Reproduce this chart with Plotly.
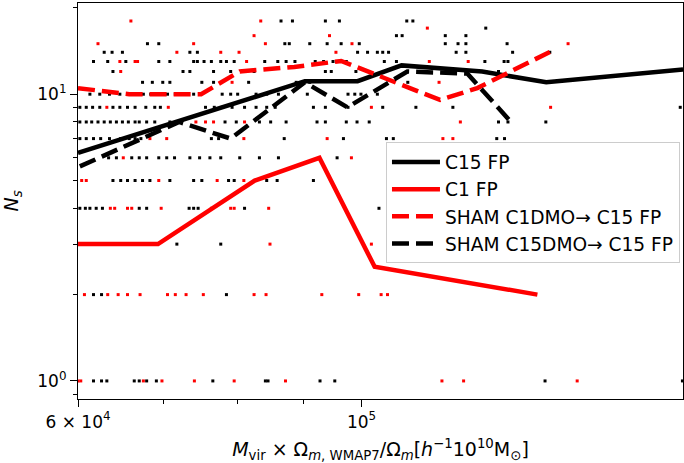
import plotly.graph_objects as go

# ---------------- data (masses in units of 1e4 h^-1 1e10 Msun) ----------------
# individual satellites counts: N_s -> list of host masses
c15_halos = {
    18: [8.65, 8.83, 9.37, 9.61, 10.85, 10.97],
    17: [12.51],
    16: [10.65, 10.76, 11.63, 12.07],
    15: [6.80, 6.94, 8.71, 8.78, 9.11, 9.40, 9.64, 9.96, 11.63, 11.90, 12.07, 13.00],
    14: [6.29, 6.38, 6.50, 7.34, 7.44, 9.93, 10.11, 10.29, 10.39, 10.50, 11.86, 12.07, 13.13, 14.04],
    13: [6.17, 6.33, 6.54, 6.94, 7.08, 7.39, 7.44, 7.53, 7.63, 7.76, 7.84, 7.95, 8.40, 8.60, 8.73,
         8.87, 9.20, 9.34, 9.50, 9.73, 10.42, 10.65, 12.49, 12.93, 13.02],
    12: [6.39, 7.25, 7.34, 7.66, 7.90, 8.24, 9.37, 9.47, 9.90, 12.51, 12.80],
    11: [6.74, 6.86, 6.99, 7.08, 7.50, 7.66, 8.16, 8.89, 9.11, 10.87],
    10: [6.13, 6.24, 6.35, 6.47, 6.58, 6.75, 6.84, 6.95, 7.05, 7.15, 7.26, 7.39, 7.78, 7.90, 8.00,
         8.27, 8.43, 8.61, 9.07, 9.76, 9.88, 9.99, 10.29],
    9: [6.02, 6.09, 6.16, 6.24, 6.39, 6.47, 6.56, 6.65, 6.78, 6.89, 6.96, 7.55, 7.67, 7.78, 7.92,
        8.10, 8.27, 8.43, 8.56, 9.17, 9.37, 9.76, 10.39, 11.03, 11.79, 17.76],
    8: [6.02, 6.09, 6.15, 6.22, 6.29, 6.36, 6.43, 6.50, 6.57, 6.65, 6.70, 6.79, 6.89, 7.08, 7.82,
        7.98, 8.32, 8.49, 8.73, 9.23, 9.37, 9.73, 9.92, 10.14, 12.80, 13.02, 13.94],
    7: [6.02, 6.09, 6.17, 6.25, 6.35, 6.48, 6.58, 6.65, 6.72, 7.63, 7.73, 8.70, 9.68, 10.46, 10.59,
        12.76, 12.94],
    6: [6.34, 6.43, 6.61, 6.70, 6.79, 6.94, 7.04, 7.14, 7.34, 7.47, 7.61, 7.76, 8.03, 8.32, 8.61, 9.57],
    5: [6.39, 6.48, 6.56, 6.65, 6.74, 6.83, 7.08, 7.39, 7.50, 7.87, 7.95, 8.43, 8.59, 9.17],
    4: [6.02, 6.08, 6.13, 6.20, 6.27, 6.70, 6.79, 7.33, 7.39, 7.45, 8.10, 10.32],
    3: [7.17, 7.76],
    2: [6.17, 6.26, 7.84],
    1: [6.17, 6.26, 6.32, 6.64, 6.70, 6.79, 6.91, 7.65, 8.41, 8.45, 9.28, 9.53, 13.92, 17.83],
}
c1_halos = {
    18: [6.60, 8.34],
    17: [11.26],
    16: [8.24, 9.44],
    15: [6.22, 7.39, 8.41, 9.83, 14.51],
    14: [7.17, 7.76, 8.02, 9.55],
    13: [6.47, 6.65, 6.68, 8.13, 11.30, 12.12],
    12: [6.48],
    11: [7.92, 11.50],
    9: [6.32, 7.06, 10.18, 14.06],
    8: [7.42, 7.55, 7.66, 8.10, 11.95],
    7: [6.83, 7.04, 8.09, 9.40, 11.58, 11.79],
    6: [6.51, 9.82],
    5: [6.04, 6.09, 6.94, 7.71, 8.09],
    4: [6.36, 6.41, 6.56, 6.61, 6.97, 7.63, 7.90, 7.95, 8.46],
    3: [8.48, 10.18],
    2: [6.07, 6.33, 6.45, 6.56, 6.71, 7.05, 7.15, 7.29, 7.52, 8.24, 8.42, 9.31, 9.95, 10.36, 10.48],
    1: [6.00, 6.03, 6.75, 6.98, 7.40, 7.95, 8.72, 11.56, 12.02, 14.75],
}

# binned relations
c15fp_mass = [6.00, 9.03, 9.93, 10.75, 12.43, 13.95, 17.85]
c15fp_ns = [6.24, 11.1, 11.1, 12.6, 12.0, 11.0, 12.2]

c1fp_mass = [5.90, 6.93, 8.25, 9.27, 10.24, 13.73]
c1fp_ns = [3.0, 3.0, 5.0, 6.0, 2.5, 2.0]

sham_c1_mass = [6.00, 6.58, 7.49, 8.03, 8.86, 9.64, 11.52, 12.32, 14.04]
sham_c1_ns = [10.5, 10.0, 10.0, 12.0, 12.45, 13.06, 9.55, 10.5, 14.04]

sham_c15_mass = [6.02, 7.20, 7.90, 9.03, 9.75, 10.86, 12.10, 13.06]
sham_c15_ns = [5.6, 8.0, 7.0, 11.0, 9.0, 12.0, 11.8, 8.1]

# axis ticks
x_major = [6e4, 1e5]
x_major_text = ["6 \u00d7 10<sup>4</sup>", "10<sup>5</sup>"]
x_minor = [7e4, 8e4, 9e4]
y_major = [1, 10]
y_major_text = ["10<sup>0</sup>", "10<sup>1</sup>"]
y_minor = [0.9, 2, 3, 4, 5, 6, 7, 8, 9, 20]

UNIT = 1e4

fig = go.Figure()


def add_dots(halos, color):
    xs, ys = [], []
    for ns, masses in halos.items():
        for m in masses:
            xs.append(m * UNIT)
            ys.append(ns)
    fig.add_trace(go.Scatter(x=xs, y=ys, mode="markers", showlegend=False,
                             marker=dict(symbol="square", size=3, color=color,
                                         line=dict(width=0)),
                             hoverinfo="skip"))


add_dots(c15_halos, "black")
add_dots(c1_halos, "#ff0000")

LW = 4.5
DASH = "17px,7px"
fig.add_trace(go.Scatter(x=[m * UNIT for m in c15fp_mass], y=c15fp_ns, mode="lines",
                         name="C15 FP", line=dict(color="black", width=LW)))
fig.add_trace(go.Scatter(x=[m * UNIT for m in c1fp_mass], y=c1fp_ns, mode="lines",
                         name="C1 FP", line=dict(color="#ff0000", width=LW)))
fig.add_trace(go.Scatter(x=[m * UNIT for m in sham_c1_mass], y=sham_c1_ns, mode="lines",
                         name="SHAM C1DMO\u2192 C15 FP",
                         line=dict(color="#ff0000", width=LW, dash=DASH)))
fig.add_trace(go.Scatter(x=[m * UNIT for m in sham_c15_mass], y=sham_c15_ns, mode="lines",
                         name="SHAM C15DMO\u2192 C15 FP",
                         line=dict(color="black", width=LW, dash=DASH)))

FONT = "DejaVu Sans"
fig.update_layout(
    width=684, height=463,
    margin=dict(l=78, r=1, t=3, b=64),
    paper_bgcolor="white", plot_bgcolor="white",
    font=dict(family=FONT, size=17, color="black"),
    showlegend=True,
    legend=dict(x=0.995, y=0.648, xanchor="right", yanchor="top",
                bgcolor="rgba(255,255,255,0.8)", bordercolor="#cccccc", borderwidth=1,
                font=dict(family=FONT, size=18.6), tracegroupgap=0, itemwidth=48),
)
fig.update_xaxes(
    type="log", range=[4.77815, 5.2516],
    showline=True, mirror=True, linecolor="black", linewidth=1.2,
    showgrid=False, zeroline=False,
    ticks="outside", ticklen=7, tickwidth=1.2, tickcolor="black",
    tickmode="array", tickvals=x_major, ticktext=x_major_text,
    tickfont=dict(family=FONT, size=17),
    minor=dict(tickmode="array", tickvals=x_minor, ticks="outside",
               ticklen=4, tickwidth=1, tickcolor="black", showgrid=False),
    title=dict(text="<i>M</i><sub>vir</sub> \u00d7 \u03a9<sub><i>m</i>, WMAP7</sub>/\u03a9<sub><i>m</i></sub>"
                    "[<i>h</i><sup>\u22121</sup>10<sup>10</sup>M<sub>\u2299</sub>]",
               font=dict(family=FONT, size=19), standoff=13),
)
fig.update_yaxes(
    type="log", range=[-0.063, 1.318],
    showline=True, mirror=True, linecolor="black", linewidth=1.2,
    showgrid=False, zeroline=False,
    ticks="outside", ticklen=7, tickwidth=1.2, tickcolor="black",
    tickmode="array", tickvals=y_major, ticktext=y_major_text,
    tickfont=dict(family=FONT, size=17),
    minor=dict(tickmode="array", tickvals=y_minor, ticks="outside",
               ticklen=4, tickwidth=1, tickcolor="black", showgrid=False),
    title=dict(text="<i>N</i><sub><i>s</i></sub>", font=dict(family=FONT, size=19), standoff=14),
)

fig.write_html("out.html")
